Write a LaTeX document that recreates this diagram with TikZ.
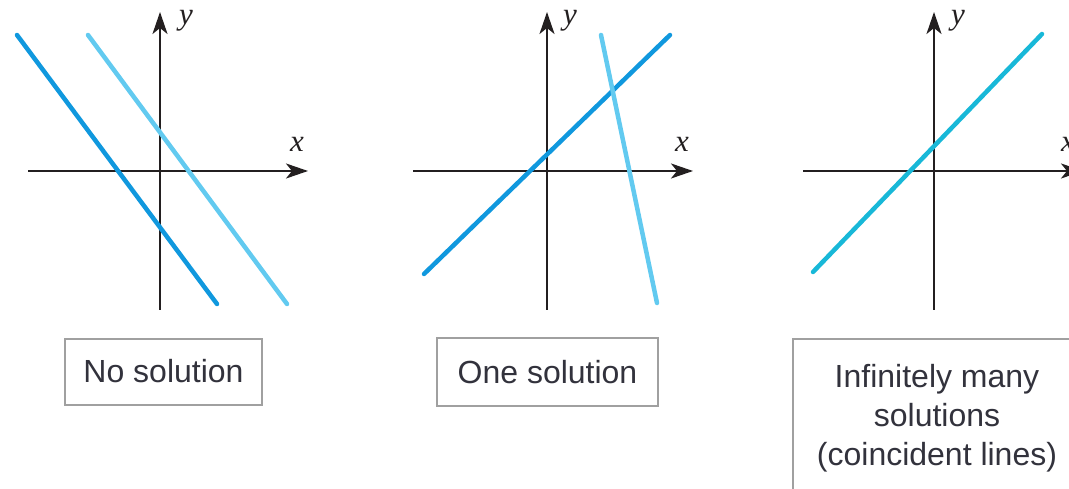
\documentclass[tikz,border=0pt]{standalone}
\usepackage{fontspec}
\newfontfamily\labfont{Liberation Sans}
\newfontfamily\mathlab{Liberation Serif}
\usetikzlibrary{arrows.meta}
\definecolor{darkline}{RGB}{16,152,222}
\definecolor{lightline}{RGB}{98,202,240}
\definecolor{tealline}{RGB}{24,184,216}
\definecolor{axiscol}{RGB}{35,31,32}
\definecolor{boxcol}{RGB}{160,160,160}
\definecolor{textcol}{RGB}{50,50,60}
\tikzset{
  axis/.style={draw=axiscol, line width=2.3pt, -{Stealth[length=22pt,width=15pt,inset=6pt]}},
  sol/.style={line width=4.5pt, line cap=round},
  axlabel/.style={font=\mathlab\itshape\fontsize{31}{31}\selectfont, text=axiscol, inner sep=0pt},
  labelbox/.style={draw=boxcol, line width=2pt, font=\labfont\fontsize{32}{39}\selectfont, text=textcol, inner sep=0pt, align=center},
}
\begin{document}
\begin{tikzpicture}[x=1pt,y=-1pt]
\useasboundingbox (0,0) rectangle (1069,489);
\clip (0,0) rectangle (1069,489);
% ---------- Panel 1 ----------
\draw[axis] (28,171) -- (308,171);
\draw[axis] (160,310) -- (160,12);
\node[axlabel] (x1) at (297,144) {x};
\node[axlabel] (y1) at (186,21) {y};
\draw[sol, draw=darkline] (17,35) -- (217,304);
\draw[sol, draw=lightline] (88,35) -- (287,304);
\node[labelbox, minimum width=197pt, minimum height=66pt] (b1) at (163.5,371.5) {No solution};
% ---------- Panel 2 ----------
\draw[axis] (413,171) -- (693,171);
\draw[axis] (547,310) -- (547,12);
\node[axlabel] (x2) at (682,144) {x};
\node[axlabel] (y2) at (570,21) {y};
\draw[sol, draw=darkline] (424,274) -- (670,35);
\draw[sol, draw=lightline] (601,35) -- (657,303);
\node[labelbox, minimum width=221pt, minimum height=68pt] (b2) at (547.5,372) {One solution};
% ---------- Panel 3 ----------
\draw[axis] (803,171) -- (1083,171);
\draw[axis] (934,310) -- (934,12);
\node[axlabel] (x3) at (1068,144) {x};
\node[axlabel] (y3) at (958,21) {y};
\draw[sol, draw=tealline] (813,272) -- (1042,34);
\draw[draw=boxcol, line width=2pt] (793,339) rectangle (1100,520);
\node[font=\labfont\fontsize{32}{39}\selectfont, text=textcol, align=center, inner sep=0pt, anchor=base] (b3) at (937,465) {Infinitely many\\solutions\\(coincident lines)};
\end{tikzpicture}
\end{document}
